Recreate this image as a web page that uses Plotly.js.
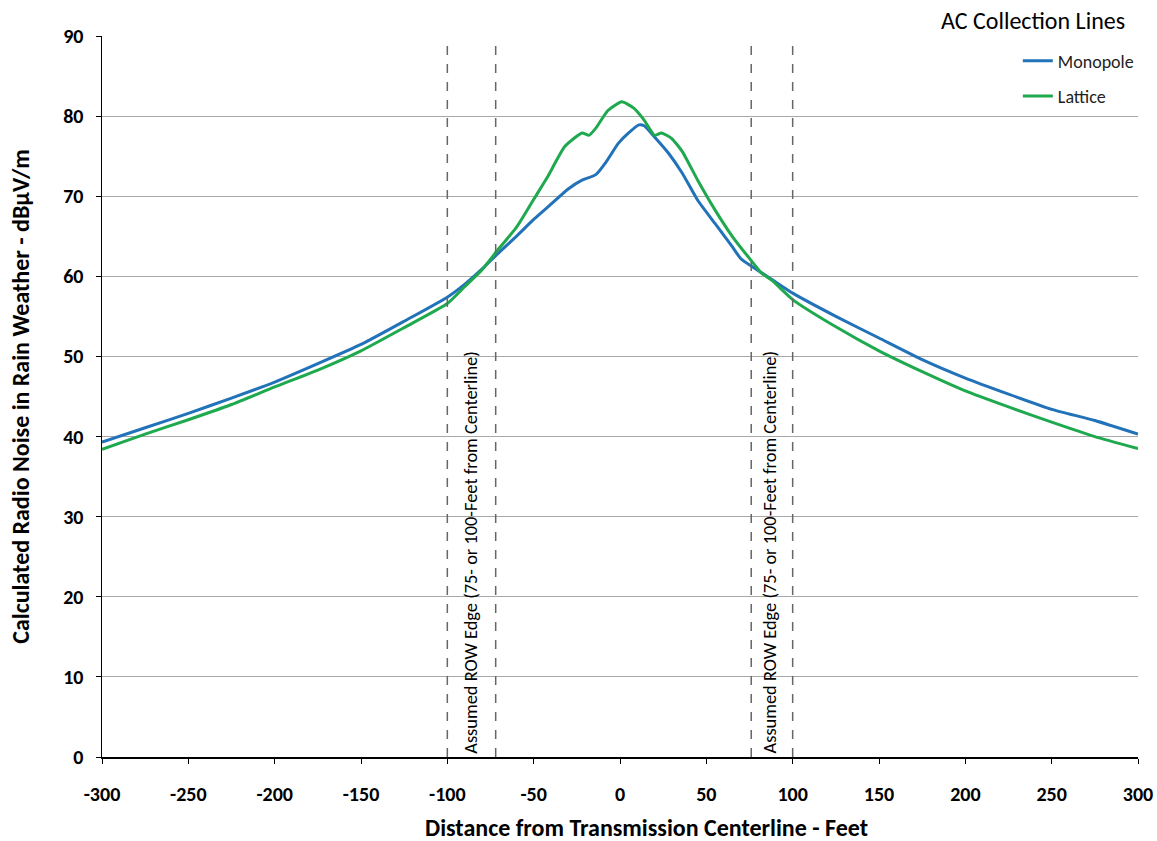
<!DOCTYPE html>
<html>
<head>
<meta charset="utf-8">
<script src="https://cdn.plot.ly/plotly-3.0.1.min.js"></script>
<style>html,body{margin:0;padding:0;background:#fff;}#chart{width:1157px;height:841px;}</style>
</head>
<body>
<div id="chart"></div>
<script>
// Distance from centerline (feet) and calculated radio noise (dBuV/m)
const monopoleX = [-300,-275,-250,-225,-200,-175,-150,-125,-100,-90,-80,-70,-60,-50,-40,-30,-22,-14,-8,-1,5,11,14,20,28,36,45,55,65,70,78,88,100,125,150,175,200,225,250,275,300];
const monopoleY = [39.3,41.1,42.9,44.8,46.8,49.1,51.5,54.4,57.4,59.0,60.9,63.0,65.0,67.1,69.0,70.9,72.0,72.7,74.3,76.6,77.9,78.9,78.8,77.4,75.4,72.9,69.5,66.6,63.7,62.2,61.0,59.6,57.9,55.0,52.3,49.6,47.3,45.3,43.4,42.0,40.3];

const latticeX = [-300,-275,-250,-225,-200,-175,-150,-125,-100,-90,-80,-70,-60,-50,-42,-32,-22,-18,-14,-7,1,8,14,20,24,30,36,45,55,65,74,82,88,100,125,150,175,200,225,250,275,300];
const latticeY = [38.4,40.3,42.1,44.0,46.2,48.3,50.7,53.6,56.6,58.7,60.8,63.5,66.1,69.6,72.4,76.2,77.9,77.6,78.5,80.7,81.8,81.0,79.5,77.6,77.9,77.2,75.6,72.0,68.3,65.0,62.5,60.4,59.5,57.1,53.7,50.7,48.1,45.7,43.7,41.8,40.0,38.5];

const seriesNames = ["Monopole", "Lattice"];
const rowEdges = [-100, -72, 76, 100];
const rowLabel = "Assumed ROW Edge (75- or 100-Feet from Centerline)";
const rowLabelX = [-86.3, 86.7];
const xTicks = [-300,-250,-200,-150,-100,-50,0,50,100,150,200,250,300];
const yTicks = [0,10,20,30,40,50,60,70,80,90];

const FONT = "Carlito, Lato, 'Open Sans', sans-serif";

const traces = [
  {x: monopoleX, y: monopoleY, name: seriesNames[0], legendgroup: "a", type: "scatter", mode: "lines",
   line: {color: "#2272b9", width: 3, shape: "spline", smoothing: 0.5}},
  {x: latticeX, y: latticeY, name: seriesNames[1], legendgroup: "b", type: "scatter", mode: "lines",
   line: {color: "#1fa94f", width: 3, shape: "spline", smoothing: 0.5}}
];

const shapes = rowEdges.map(v => ({
  type: "line", xref: "x", yref: "y", x0: v, x1: v, y0: 0, y1: 89.2,
  line: {color: "#666666", width: 1.5, dash: "dash"}
}));

const annotations = rowLabelX.map(v => ({
  xref: "x", yref: "y", x: v, y: 25.5, text: rowLabel, showarrow: false, textangle: -90,
  font: {family: FONT, size: 18.4, color: "#000"}, xanchor: "center", yanchor: "middle"
}));
annotations.push({
  xref: "paper", yref: "paper", x: 0.526, y: 0, yshift: -70, xanchor: "center", yanchor: "middle",
  text: "Distance from Transmission Centerline - Feet", showarrow: false, borderpad: 0,
  font: {family: FONT, size: 24, color: "#000", weight: "bold"}
});
annotations.push({
  xref: "paper", yref: "paper", x: 0.9894, y: 1, yshift: 16, xanchor: "right", yanchor: "middle",
  text: "AC Collection Lines", showarrow: false,
  font: {family: FONT, size: 24, color: "#000"}
});

const layout = {
  width: 1157, height: 841,
  margin: {l: 102, r: 19, t: 36, b: 84},
  paper_bgcolor: "#fff", plot_bgcolor: "#fff",
  showlegend: true,
  legend: {x: 0.884, xanchor: "left", y: 0.991, yanchor: "top", bgcolor: "rgba(0,0,0,0)",
           font: {family: FONT, size: 18, color: "#222"}, traceorder: "grouped", tracegroupgap: 9},
  xaxis: {range: [-300, 300], tickvals: xTicks, ticktext: xTicks.map(String), showgrid: false, zeroline: false,
          showline: true, linecolor: "#000", linewidth: 1.5, ticks: "outside", ticklen: 5, tickcolor: "#000",
          ticklabelstandoff: 13,
          tickfont: {family: FONT, size: 20, color: "#000", weight: "bold"}, fixedrange: true},
  yaxis: {range: [0, 90], tickvals: yTicks, showgrid: true, gridcolor: "#a8a8a8", gridwidth: 1, zeroline: false,
          showline: true, linecolor: "#000", linewidth: 1.5, ticks: "outside", ticklen: 5, tickcolor: "#000",
          ticklabelstandoff: 8,
          tickfont: {family: FONT, size: 20, color: "#000", weight: "bold"},
          title: {text: "Calculated Radio Noise in Rain Weather - dBμV/m", standoff: 27,
                  font: {family: FONT, size: 24, color: "#000", weight: "bold"}}},
  shapes: shapes,
  annotations: annotations
};

Plotly.newPlot("chart", traces, layout, {displayModeBar: false, staticPlot: true});
</script>
</body>
</html>
